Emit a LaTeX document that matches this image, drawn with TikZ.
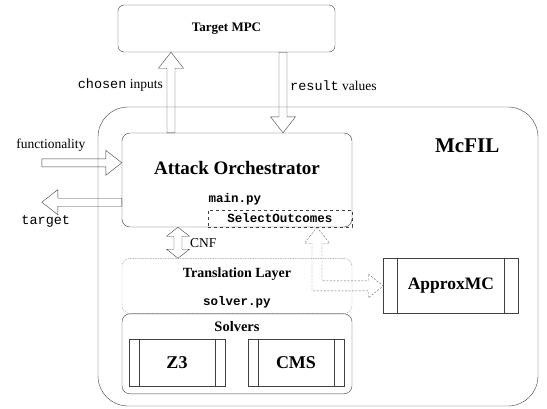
\documentclass[tikz,border=0pt]{standalone}
\usepackage{fontspec}
\setmainfont{Liberation Serif}
\setmonofont{Liberation Mono}
\usetikzlibrary{
    calc,
    positioning,
}
\colorlet{MyLine}{black!75}
\tikzstyle{box}=[draw=MyLine,rectangle,rounded corners=8pt,inner sep=0pt]
\tikzstyle{module}=[draw=MyLine,rectangle,inner sep=0pt,minimum height=47pt,font=\bfseries\fontsize{18}{20}\selectfont]
\tikzstyle{hollow}=[draw=MyLine,line join=miter]
\tikzstyle{lbl}=[inner sep=0pt,font=\fontsize{13.5}{15}\selectfont]
\tikzstyle{code}=[inner sep=0pt,font=\ttfamily\bfseries\fontsize{12.5}{14}\selectfont]
\def\ShaftW{4pt}
\def\HeadW{12.5pt}
\def\HeadL{16pt}
\newcommand{\HollowArrow}[3][]{%
    \coordinate (hb) at ($(#3)!\HeadL!(#2)$);
    \draw[hollow,#1] ($(#2)!\ShaftW!90:(#3)$) -- ($(hb)!\ShaftW!90:(#3)$) -- ($(hb)!\HeadW!90:(#3)$)
        -- (#3) -- ($(hb)!\HeadW!-90:(#3)$) -- ($(hb)!\ShaftW!-90:(#3)$) -- ($(#2)!\ShaftW!-90:(#3)$) -- cycle;
}
\newcommand{\DoubleHollowArrow}[3][]{%
    \coordinate (ha) at ($(#2)!\HeadL!(#3)$);
    \coordinate (hb) at ($(#3)!\HeadL!(#2)$);
    \draw[hollow,#1] (#2) -- ($(ha)!\HeadW!90:(#3)$) -- ($(ha)!\ShaftW!90:(#3)$) -- ($(hb)!\ShaftW!90:(#3)$)
        -- ($(hb)!\HeadW!90:(#3)$) -- (#3) -- ($(hb)!\HeadW!-90:(#3)$) -- ($(hb)!\ShaftW!-90:(#3)$)
        -- ($(ha)!\ShaftW!-90:(#3)$) -- ($(ha)!\HeadW!-90:(#3)$) -- cycle;
}
\newcommand{\Module}[4][]{%
    \node[module,#1] (#2) {#3};
    \draw[MyLine] ([xshift=#4]#2.north west) -- ([xshift=#4]#2.south west);
    \draw[MyLine] ([xshift=-#4]#2.north east) -- ([xshift=-#4]#2.south east);
}

\begin{document}
\begin{tikzpicture}[x=1pt,y=-1pt]
    \useasboundingbox (0,0) rectangle (547,408);

    % Boxes
    \node[box,rounded corners=6pt,minimum width=217pt,minimum height=47pt] (mpc) at (226.5,28.5)
        {\bfseries\fontsize{13}{15}\selectfont Target MPC};
    \node[box,rounded corners=30pt,minimum width=440pt,minimum height=299pt] (mcfil) at (318,256.5) {};
    \node[font=\bfseries\fontsize{21}{24}\selectfont] at ([xshift=-71pt,yshift=-39pt]mcfil.north east) {McFIL};

    \node[box,minimum width=230pt,minimum height=94pt] (orch) at (237,180) {};
    \node[font=\bfseries\fontsize{19}{22}\selectfont] at ([yshift=-35pt]orch.north) {Attack Orchestrator};
    \node[code] at ([xshift=-2pt,yshift=-66pt]orch.north) {main.py};
    \node[draw=MyLine,dashed,rectangle,inner sep=0pt,minimum width=144pt,minimum height=17pt,anchor=south east,
        font=\ttfamily\bfseries\fontsize{12.5}{14}\selectfont] (sel) at (orch.south east) {SelectOutcomes};

    \node[box,draw=black!40,dash pattern=on 1.5pt off 1pt,minimum width=230pt,minimum height=55pt,below=31pt of orch] (trans) {};
    \node[font=\bfseries\fontsize{14}{16}\selectfont] at ([yshift=-16pt]trans.north) {Translation Layer};
    \node[code] at ([yshift=11pt]trans.south) {solver.py};

    \node[box,minimum width=230pt,minimum height=80pt,below=0pt of trans] (solvers) {};
    \node[font=\bfseries\fontsize{14.5}{16}\selectfont] at ([yshift=-13pt]solvers.north) {Solvers};
    \Module[minimum width=96pt,anchor=south west,at={([xshift=7pt,yshift=8pt]solvers.south west)}]{z3}{Z3}{10pt}
    \Module[minimum width=96pt,anchor=south east,at={([xshift=-8pt,yshift=8pt]solvers.south east)}]{cms}{CMS}{10pt}
    \Module[minimum width=135pt,minimum height=55pt,font=\bfseries\fontsize{17.5}{20}\selectfont,right=31pt of trans]{approx}{ApproxMC}{14pt}

    % Arrows
    \coordinate (in1) at ([xshift=-55.5pt]mpc.south);
    \coordinate (in0) at (orch.north -| in1);
    \HollowArrow{in0}{in1}
    \node[lbl,anchor=east] at ([xshift=-8pt,yshift=-33pt]in1) {\texttt{chosen} inputs};

    \coordinate (res0) at ([xshift=56.5pt]mpc.south);
    \coordinate (res1) at (orch.north -| res0);
    \HollowArrow{res0}{res1}
    \node[lbl,anchor=west] at ([xshift=7pt,yshift=-33pt]res0) {\texttt{result} values};

    \coordinate (fn1) at ([yshift=-30pt]orch.north west);
    \coordinate (fn0) at ([xshift=-80pt]fn1);
    \HollowArrow{fn0}{fn1}
    \node[lbl] at ([xshift=9pt,yshift=18pt]fn0) {functionality};

    \coordinate (tg0) at ([yshift=25pt]orch.south west);
    \coordinate (tg1) at ([xshift=-80pt]tg0);
    \HollowArrow{tg0}{tg1}
    \node[lbl] at ([xshift=4pt,yshift=-19pt]tg1) {\texttt{target}};

    \coordinate (cnf0) at ([xshift=-59pt]orch.south);
    \coordinate (cnf1) at (trans.north -| cnf0);
    {\def\HeadL{9pt}\def\HeadW{11.5pt}\DoubleHollowArrow{cnf0}{cnf1}}
    \node[lbl,anchor=west] at ([xshift=12pt,yshift=-16pt]cnf0) {CNF};

    \coordinate (sel0) at ([xshift=37pt]sel.south);
    \draw[hollow,draw=black!60,dash pattern=on 2pt off 1.5pt] let \p1=(sel0), \p2=(approx.west) in
        (\p1) -- (\x1+12.5pt,\y1-16pt) -- (\x1+5pt,\y1-16pt) -- (\x1+5pt,\y2+5pt) -- (\x2-15pt,\y2+5pt)
        -- (\x2-15pt,\y2+12pt) -- (\p2) -- (\x2-15pt,\y2-12pt) -- (\x2-15pt,\y2-5pt) -- (\x1-5pt,\y2-5pt)
        -- (\x1-5pt,\y1-16pt) -- (\x1-12.5pt,\y1-16pt) -- cycle;
\end{tikzpicture}
\end{document}
